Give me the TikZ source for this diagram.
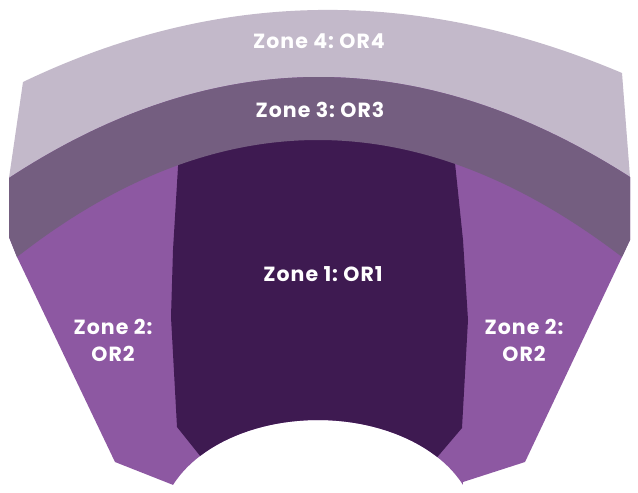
\documentclass[tikz,border=0pt]{standalone}
\usepackage{fontspec}
\setmainfont{Poppins}
\definecolor{zfour}{HTML}{C3B9CA}
\definecolor{zthree}{HTML}{745E80}
\definecolor{ztwo}{HTML}{8D58A2}
\definecolor{zone}{HTML}{3E1A51}
\begin{document}
\frenchspacing
\begin{tikzpicture}[x=1pt,y=-1pt,
  lbl/.style={text=white,font=\bfseries\fontsize{20.5}{27}\selectfont\addfontfeatures{LetterSpace=5},align=center,inner sep=0pt}]
\useasboundingbox (0,0) rectangle (638,493);
% zone 4 (extends under zone 3)
\fill[zfour] (23,82) .. controls (216.7,-11) and (416.3,-14) .. (622,73)
  -- (630,177) -- (630,200) .. controls (421,66) and (214,66) .. (9,201)
  -- (9,178) -- cycle;
% zone 2 together with the band of zone 3
\def\outline{(9,178) .. controls (214,43.7) and (421,43.3) .. (630,177)
  -- (630,240) -- (622,257) -- (525,462) -- (463,482)
  -- plot[domain=23.1:156.9,samples=50] ({318+157.6*cos(\x)},{526.8-106.8*sin(\x)})
  -- (115,462) -- (17,257) -- (9,237) -- cycle}
\fill[ztwo] \outline;
% zone 1
\begin{scope}
  \clip \outline;
  \fill[zone] (180,120) -- (178,167) -- (173,250) -- (171,317) -- (177,427)
    -- (209,467) -- (428,468) -- (462,428) -- (468,320) -- (463,240)
    -- (455,163) -- (451,120) -- cycle;
\end{scope}
% zone 3
\fill[zthree] (9,178) .. controls (214,43.7) and (421,43.3) .. (630,177)
  -- (630,240) -- (622,257) .. controls (418.3,101) and (216.7,101) .. (17,257)
  -- (9,237) -- cycle;
% labels
\node[lbl] (z4) at (319,41) {Zone 4: OR4};
\node[lbl] (z3) at (320,109.5) {Zone 3: OR3};
\node[lbl] (z1) at (323,274.5) {Zone 1: OR1};
\node[lbl] (z2l) at (113,340) {Zone 2:\\OR2};
\node[lbl] (z2r) at (524,340) {Zone 2:\\OR2};
\end{tikzpicture}
\end{document}
